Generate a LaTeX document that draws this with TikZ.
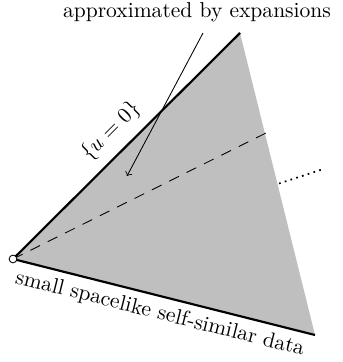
\documentclass[tikz,border=0pt]{standalone}
\begin{document}
\begin{tikzpicture}[x=0.464pt,y=-0.464pt,
  edge/.style={line width=1pt},
  lbl/.style={inner sep=0pt, font=\normalsize}]
\useasboundingbox (0,0) rectangle (342,362);
\coordinate (O) at (13,259);
\coordinate (T) at (240,33);
\coordinate (B) at (315,335);
\coordinate (D) at (270,131);
\coordinate (P1) at (279,183.5);
\coordinate (P2) at (322,169.5);
\coordinate (A0) at (203,33);
\coordinate (A1) at (127,176);
\fill[gray!50] (O) -- (T) -- (B) -- cycle;
\draw[edge] (T) -- (O) -- (B);
\draw[dashed, dash pattern=on 5pt off 4pt] (O) -- (D);
\draw[dotted, line width=0.8pt] (P1) -- (P2);
\draw[->, thin] (A0) -- (A1);
\node[lbl, anchor=base] (top) at (197,18) {approximated by expansions};
\node[lbl, rotate=45] (u) at (111,131) {$\{u=0\}$};
\node[lbl, rotate=-14.1] (s) at (160,314) {small spacelike self-similar data};
\node[circle, draw, fill=white, inner sep=0pt, minimum size=3.6pt] (Oc) at (O) {};
\end{tikzpicture}
\end{document}
